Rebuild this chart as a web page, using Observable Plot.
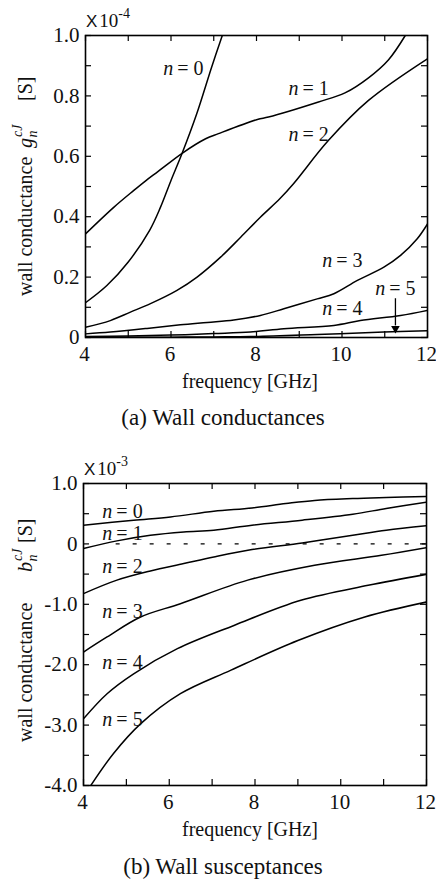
<!DOCTYPE html>
<html><head><meta charset="utf-8">
<script src="https://cdn.jsdelivr.net/npm/d3@7"></script>
<script src="https://cdn.jsdelivr.net/npm/@observablehq/plot@0.6"></script>
<style>
body{margin:0;background:#fff;}
#wrap{position:relative;width:436px;height:884px;font-family:"Liberation Serif","Times New Roman",serif;background:#fff;}
#wrap svg{position:absolute;left:0;}
#wrap svg text{font-family:"Liberation Serif","Times New Roman",serif;}
.cap{position:absolute;left:0;width:446px;text-align:center;font-size:23px;line-height:24px;color:#111;font-family:"Liberation Serif","Times New Roman",serif;}
</style></head><body><div id="wrap"></div>
<script>
// ---- axis ticks ----
const freqTicks = [4, 5, 6, 7, 8, 9, 10, 11, 12];
const freqLabels = [4, 6, 8, 10, 12];
const gTicks = [0, 0.1, 0.2, 0.3, 0.4, 0.5, 0.6, 0.7, 0.8, 0.9, 1.0];
const gLabels = [0, 0.2, 0.4, 0.6, 0.8, 1.0];
const bTicks = [-4, -3.5, -3, -2.5, -2, -1.5, -1, -0.5, 0, 0.5, 1];
const bLabels = [-4, -3, -2, -1, 0, 1];

// ---- (a) wall conductances g_n^cJ  [x1e-4 S], pairs [GHz, value] ----
const g0 = [[4,0.115],[4.5,0.172],[5,0.25],[5.5,0.355],[5.75,0.43],[6,0.52],[6.26,0.61],[6.6,0.74],[6.95,0.895],[7.2,1.0]];
const g1 = [[4,0.343],[4.66,0.431],[5.13,0.487],[5.4,0.518],[5.7,0.55],[6.26,0.61],[6.81,0.658],[7.11,0.675],[8.02,0.722],[8.28,0.73],[9.45,0.78],[10.07,0.81],[10.62,0.86],[11.09,0.92],[11.48,1.0]];
const g2 = [[4,0.034],[4.58,0.056],[5.05,0.084],[5.52,0.112],[6.14,0.156],[6.61,0.2],[7.16,0.266],[7.63,0.332],[8.09,0.398],[8.55,0.46],[8.87,0.51],[9.68,0.652],[10.62,0.785],[12,0.923]];
const g3 = [[4,0.012],[4.58,0.018],[5.44,0.03],[6.22,0.042],[6.85,0.05],[7.47,0.058],[8.09,0.073],[8.64,0.095],[9.42,0.128],[9.81,0.145],[10.36,0.189],[10.98,0.233],[11.37,0.272],[11.76,0.327],[12,0.376]];
const g4 = [[4,0.003],[5,0.005],[6,0.008],[7,0.013],[7.86,0.018],[8.64,0.029],[9.81,0.04],[10.43,0.056],[11.37,0.073],[12,0.09]];
const g5 = [[4,0.0005],[5,0.0008],[6,0.001],[7,0.002],[7.86,0.003],[9.42,0.01],[10.98,0.018],[12,0.022]];
// label anchors (left edge) for "n = k"
const gLabF = [5.82, 8.75, 8.75, 9.54, 9.54, 10.78];
const gLabV = [0.89, 0.824, 0.672, 0.255, 0.096, 0.162];
// arrow pointing to n = 5
const arrowF = 11.25, arrowV1 = 0.13, arrowV2 = 0.03;

// ---- (b) wall susceptances b_n^cJ  [x1e-3 S] ----
const b0 = [[4,0.31],[5.17,0.392],[6.03,0.447],[7.04,0.54],[7.93,0.596],[8.72,0.668],[9.39,0.72],[10.28,0.751],[11.06,0.768],[12,0.785]];
const b1 = [[4,-0.077],[4.78,0.05],[5.56,0.143],[6.34,0.198],[7.04,0.226],[7.93,0.309],[9.1,0.392],[10.28,0.491],[11.06,0.586],[12,0.69]];
const b2 = [[4,-0.823],[4.78,-0.6],[5.56,-0.448],[6.34,-0.326],[7.04,-0.216],[7.93,-0.094],[9.1,0.016],[10.28,0.143],[11.06,0.226],[12,0.3]];
const b3 = [[4,-1.79],[4.55,-1.54],[5.33,-1.21],[6.26,-0.99],[7.83,-0.6],[9.39,-0.354],[10.95,-0.188],[12,-0.061]];
const b4 = [[4,-2.895],[4.55,-2.48],[5.17,-2.15],[6.19,-1.735],[7.51,-1.35],[9.07,-0.934],[10.64,-0.686],[12,-0.503]];
const b5 = [[4.17,-4.0],[4.7,-3.47],[5.33,-2.98],[6.26,-2.48],[7.44,-2.09],[9.0,-1.6],[10.56,-1.21],[12,-0.962]];
const bLabF = [4.44, 4.44, 4.44, 4.44, 4.44, 4.44];
const bLabV = [0.54, 0.176, -0.37, -1.116, -1.97, -2.906];
// dashed zero reference line, drawn from this frequency on
const zeroLine = [{f1: 4.75, f2: 12, v: 0}];

const toRows = series => series.flatMap((arr, n) => arr.map(([f, v]) => ({n, f, v})));
const labRows = (F, V) => F.map((f, n) => ({n, f, v: V[n]}));
const fmtY = d => d === 0 ? "0" : d.toFixed(1);
const FONT = "'Liberation Serif', 'Times New Roman', serif";

function panel(o) {
  const W = 436;
  const pw = W - o.ml - o.mr, ph = o.h - o.mt - o.mb;
  const labs = labRows(o.labF, o.labV);
  const marks = [
    // inward ticks
    Plot.ruleX(freqTicks, {stroke: "black", strokeWidth: 1.2, insetTop: ph - 6}),
    Plot.ruleX(freqTicks, {stroke: "black", strokeWidth: 1.2, insetBottom: ph - 6}),
    Plot.ruleY(o.yTicks, {stroke: "black", strokeWidth: 1.2, insetRight: pw - 6}),
    Plot.ruleY(o.yTicks, {stroke: "black", strokeWidth: 1.2, insetLeft: pw - 6}),
    Plot.axisX({ticks: freqLabels, tickSize: 0, tickPadding: 9, label: null, fontSize: 21, dx: -1}),
    Plot.axisY({ticks: o.yLabels, tickSize: 0, tickPadding: 6, tickFormat: fmtY, label: null, fontSize: 21}),
    ...(o.extraBefore || []),
    Plot.line(toRows(o.series), {x: "f", y: "v", z: "n", stroke: "black", strokeWidth: 1.5, curve: "catmull-rom", clip: true}),
    Plot.text(labs, {x: "f", y: "v", text: () => "n", fontStyle: "italic", textAnchor: "start", fontSize: 20}),
    Plot.text(labs, {x: "f", y: "v", text: d => "= " + d.n, textAnchor: "start", dx: 14, fontSize: 20}),
    ...(o.extraAfter || []),
    Plot.frame({stroke: "black", strokeWidth: 1.6})
  ];
  const svg = Plot.plot({
    width: W, height: o.h,
    marginLeft: o.ml, marginRight: o.mr, marginTop: o.mt, marginBottom: o.mb,
    x: {domain: [4, 12]},
    y: {domain: o.yDomain},
    style: {fontFamily: FONT, fontSize: "21px", color: "#111", background: "white", overflow: "visible"},
    marks
  });
  const s = d3.select(svg);
  // multiplier "X 10^-k"
  const m = s.append("text").attr("x", o.ml + 1).attr("y", o.mt - 8).attr("fill", "#111").attr("text-anchor", "start");
  m.append("tspan").style("font-family", "'Liberation Sans', Arial, sans-serif").attr("font-size", 17).text("X");
  m.append("tspan").attr("font-size", 19).attr("dx", 2).text("10");
  m.append("tspan").attr("font-size", 14).attr("dy", -9).text(o.exp);
  // x title
  s.append("text").attr("x", 250).attr("y", o.mt + ph + 51).attr("text-anchor", "middle")
    .attr("font-size", 20).attr("fill", "#111").text("frequency [GHz]");
  // y title pieces (rotated)
  const yt = (y, txt) => s.append("text").attr("transform", `translate(32,${y}) rotate(-90)`)
    .attr("text-anchor", "start").attr("font-size", 20).attr("fill", "#111").text(txt);
  yt(o.yTitleStart, "wall conductance");
  const sym = s.append("text").attr("transform", `translate(32,${o.symStart}) rotate(-90)`)
    .attr("text-anchor", "start").attr("font-size", 20).attr("fill", "#111");
  sym.append("tspan").attr("font-style", "italic").text(o.sym);
  sym.append("tspan").attr("font-style", "italic").attr("font-size", 14).attr("dx", 1).attr("dy", -10).text("cJ");
  sym.append("tspan").attr("font-style", "italic").attr("font-size", 14).attr("dx", -13).attr("dy", 15).text("n");
  yt(o.sStart, "[S]");
  svg.style.top = o.top + "px";
  return svg;
}

const wrap = document.getElementById("wrap");
wrap.appendChild(panel({
  top: 0, h: 395, ml: 85, mr: 9, mt: 35, mb: 58,
  series: [g0, g1, g2, g3, g4, g5], yDomain: [0, 1], yTicks: gTicks, yLabels: gLabels,
  labF: gLabF, labV: gLabV, exp: "-4",
  yTitleStart: 296, symStart: 148, sStart: 101, sym: "g",
  extraAfter: [
    Plot.link([arrowF], {x1: d => d, x2: d => d, y1: () => arrowV1, y2: () => arrowV2 + 0.01, stroke: "black", strokeWidth: 1.3}),
    Plot.dot([arrowF], {x: d => d, y: () => arrowV2, symbol: "triangle", rotate: 180, r: 3.2, fill: "black", stroke: "none"})
  ]
}));
wrap.appendChild(panel({
  top: 440, h: 405, ml: 83, mr: 10, mt: 43, mb: 60,
  series: [b0, b1, b2, b3, b4, b5], yDomain: [-4, 1], yTicks: bTicks, yLabels: bLabels,
  labF: bLabF, labV: bLabV, exp: "-3",
  yTitleStart: 302, symStart: 132, sStart: 103, sym: "b",
  extraBefore: [Plot.link(zeroLine, {x1: "f1", x2: "f2", y1: "v", y2: "v", stroke: "black", strokeWidth: 1.2, strokeDasharray: "4,13"})]
}));
const c1 = document.createElement("div"); c1.className = "cap"; c1.style.top = "406px"; c1.textContent = "(a) Wall conductances"; wrap.appendChild(c1);
const c2 = document.createElement("div"); c2.className = "cap"; c2.style.top = "855px"; c2.textContent = "(b) Wall susceptances"; wrap.appendChild(c2);
</script></body></html>
